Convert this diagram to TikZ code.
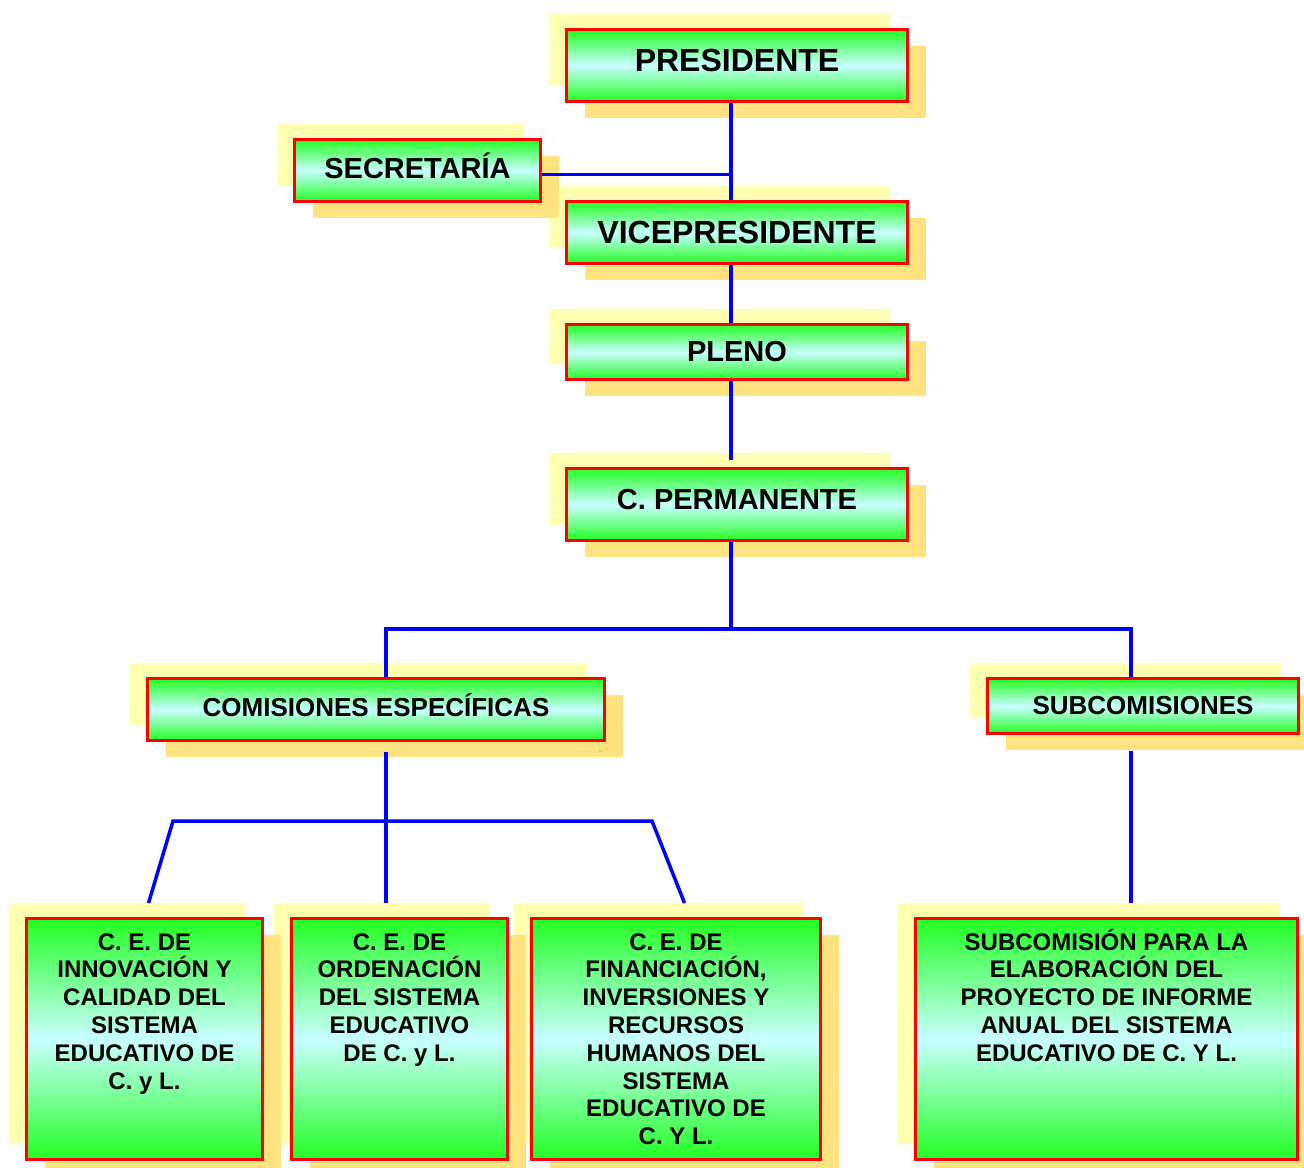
\documentclass[tikz,border=0pt]{standalone}
\usepackage{fontspec}
\setmainfont{Liberation Sans}
\usepackage{tikz}
\usetikzlibrary{positioning,shadows}

\definecolor{boxgreen}{RGB}{34,255,34}
\definecolor{boxcyan}{RGB}{200,255,255}
\definecolor{boxred}{RGB}{255,0,0}
\definecolor{shadelight}{RGB}{255,255,176}
\definecolor{shadedark}{RGB}{255,227,128}
\definecolor{linkblue}{RGB}{0,0,255}

\newcommand{\boxtext}[2]{\parbox[c][111pt][t]{#1}{\centering\rule{0pt}{11pt}#2}}

\begin{document}
\begin{tikzpicture}[
                x=0.5pt, y=-0.5pt,
                box/.style={draw=boxred, line width=1.5pt, anchor=north west, inner sep=0pt, align=center,
                    top color=boxgreen, bottom color=boxgreen, middle color=boxcyan,
                    general shadow={shadow xshift=-9pt, shadow yshift=8pt, fill=shadelight},
                    general shadow={shadow xshift=9pt, shadow yshift=-8pt, fill=shadedark}},
                big/.style={box, font=\bfseries\fontsize{16}{19}\selectfont},
                mid/.style={box, font=\bfseries\fontsize{14.5}{17}\selectfont},
                small/.style={box, font=\bfseries\fontsize{13}{16}\selectfont},
                lift/.style={text depth=5pt},
                tall/.style={box, minimum height=120.5pt, font=\bfseries\fontsize{12}{13.9}\selectfont},
                link/.style={draw=linkblue, line width=1.75pt}
            ]

            \useasboundingbox (0,0) rectangle (1304,1167);

            % top column
            \node[big, lift, minimum width=170.5pt, minimum height=36pt] (pres) at (565,28) {PRESIDENTE};

            \node[big, minimum width=170.5pt, minimum height=31pt, below=48.5pt of pres] (vice) {VICEPRESIDENTE};

            \node[mid, lift, minimum width=123pt, minimum height=31pt] (secr) at (293,138) {SECRETARÍA};

            \node[mid, minimum width=170.5pt, minimum height=27.5pt, below=29pt of vice] (pleno) {PLENO};

            \node[mid, lift, minimum width=170.5pt, minimum height=36pt, below=43pt of pleno] (cperm) {C. PERMANENTE};

            % second level
            \node[small, lift, minimum width=228.5pt, minimum height=31pt] (comis) at (146,677) {COMISIONES ESPECÍFICAS};

            \node[small, minimum width=155.5pt, minimum height=27.5pt] (subcom) at (986,677) {SUBCOMISIONES};

            % bottom row
            \node[tall, minimum width=144.5pt] (fin) at (530,917)
                {\boxtext{136pt}{C. E. DE\\FINANCIACIÓN,\\INVERSIONES Y\\RECURSOS\\HUMANOS DEL\\SISTEMA\\EDUCATIVO DE\\C. Y L.}};

            \node[tall, minimum width=108pt] (ord) at (290,917)
                {\boxtext{100pt}{C. E. DE\\ORDENACIÓN\\DEL SISTEMA\\EDUCATIVO\\DE C. y L.}};

            \node[tall, minimum width=118pt] (innov) at (25,917)
                {\boxtext{110pt}{C. E. DE\\INNOVACIÓN Y\\CALIDAD DEL\\SISTEMA\\EDUCATIVO DE\\C. y L.}};

            \node[tall, minimum width=191pt] (informe) at (914,917)
                {\boxtext{184pt}{SUBCOMISIÓN PARA LA\\ELABORACIÓN DEL\\PROYECTO DE INFORME\\ANUAL DEL SISTEMA\\EDUCATIVO DE C. Y L.}};

            \coordinate (spine) at (731,0);
            \coordinate (leftcol) at (386,0);
            \coordinate (rightcol) at (1131,0);
            \coordinate (fork) at (0,629);
            \coordinate (kneeL) at (173,821);
            \coordinate (kneeR) at (652,821);

            \draw[link] (pres.south -| spine) -- (vice.north -| spine);
            \draw[link] ([yshift=-2pt]secr.east) -- ([yshift=-2pt]secr.east -| spine);
            \draw[link] (vice.south -| spine) -- (pleno.north -| spine);
            \draw[link, shorten >=3.5pt] (pleno.south -| spine) -- (cperm.north -| spine);
            \draw[link] (cperm.south -| spine) -- (fork -| spine);
            \draw[link] (comis.north -| leftcol) -- (fork -| leftcol) -- (fork -| rightcol) -- (subcom.north -| rightcol);
            \draw[link, shorten <=5pt, shorten >=7pt] (comis.south -| leftcol) -- (ord.north -| leftcol);
            \draw[link] ([shift={(2pt,7pt)}]innov.north) -- (kneeL) -- (kneeR) -- ([shift={(4.25pt,7pt)}]fin.north);
            \draw[link, shorten <=8pt, shorten >=7pt] (subcom.south -| rightcol) -- (informe.north -| rightcol);

        \end{tikzpicture}
\end{document}
